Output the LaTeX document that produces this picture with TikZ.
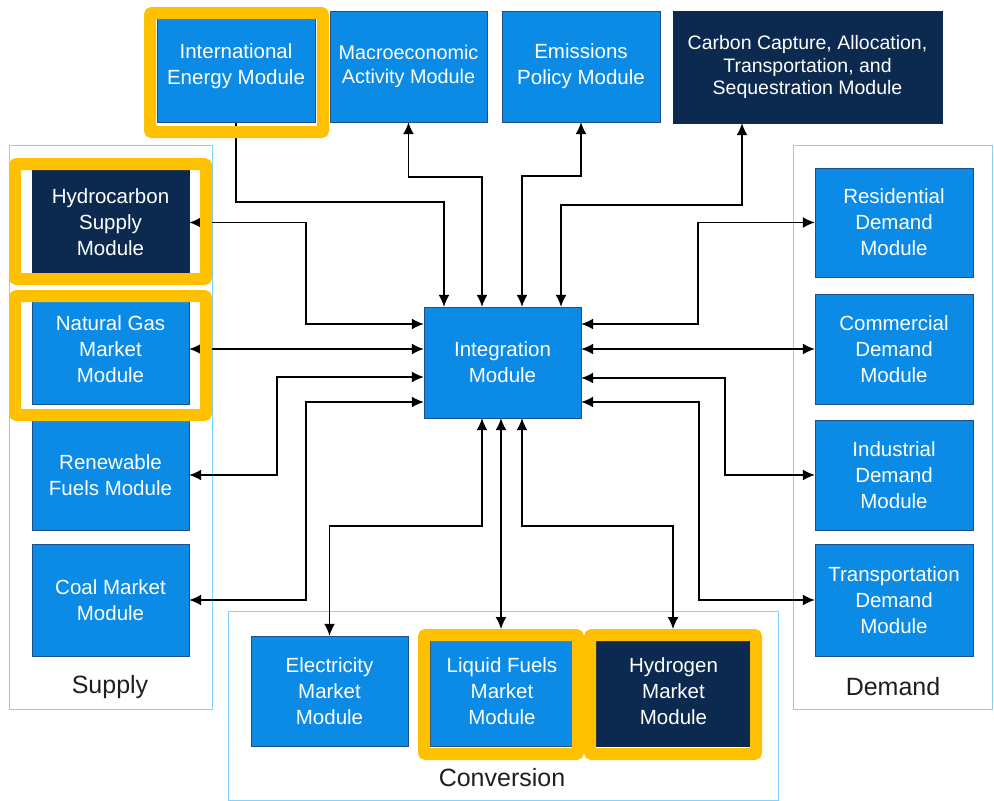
\documentclass[tikz,border=0pt]{standalone}
\usepackage{fontspec}
\setmainfont{Liberation Sans}
\usetikzlibrary{arrows.meta, backgrounds}
\definecolor{modblue}{HTML}{0B8BE5}
\definecolor{modedge}{HTML}{1F4F8A}
\definecolor{modnavy}{HTML}{0C2A50}
\definecolor{hilite}{HTML}{FFC000}
\definecolor{grpline}{HTML}{7FD4FF}

\begin{document}
\begin{tikzpicture}[x=1pt,y=-1pt,
            every node/.style={align=center},
            wh/.style 2 args={minimum width=#1pt,minimum height=#2pt},
            module/.style={draw=modedge, fill=modblue, text=white, inner sep=0pt, font=\fontsize{20.5}{26}\selectfont},
            newmod/.style={module, draw=modnavy, fill=modnavy},
            frame/.style={draw=hilite, line width=12pt, rounded corners=2pt, inner sep=0pt},
            group/.style={draw=grpline, line width=1pt},
            grouplabel/.style={text=black!88, font=\fontsize{25}{30}\selectfont},
            to/.style={-{Latex[length=12pt,width=11pt]}, line width=1.5pt},
            both/.style={{Latex[length=12pt,width=11pt]}-{Latex[length=12pt,width=11pt]}, line width=1.5pt}]
        \useasboundingbox (0,0) rectangle (994,801);

        \node[module, wh={158}{111}] (IE) at (236,66.5) {International\\Energy Module};
        \node[module, wh={157}{111}, font=\fontsize{19.8}{24}\selectfont] (MA) at (408.5,66.5) {Macroeconomic\\Activity Module};
        \node[module, wh={158}{111}] (EP) at (581,66.5) {Emissions\\Policy Module};
        \node[newmod, wh={269}{112}, font=\fontsize{19.5}{22.5}\selectfont] (CC) at (807.5,67) {Carbon Capture, Allocation,\\Transportation, and\\Sequestration Module};

        \node[newmod, wh={157}{109}] (HS) at (110.5,222.5) {Hydrocarbon\\Supply\\Module};
        \node[module, wh={157}{110}] (NG) at (110.5,349) {Natural Gas\\Market\\Module};
        \node[module, wh={157}{110}] (RF) at (110.5,475) {Renewable\\Fuels Module};
        \node[module, wh={157}{112}] (CM) at (110.5,600) {Coal Market\\Module};

        \node[module, wh={157}{111}] (IM) at (502.5,362.5) {Integration\\Module};

        \node[module, wh={158}{109}] (RD) at (894,222.5) {Residential\\Demand\\Module};
        \node[module, wh={158}{110}] (CD) at (894,349) {Commercial\\Demand\\Module};
        \node[module, wh={158}{110}] (ID) at (894,475) {Industrial\\Demand\\Module};
        \node[module, wh={158}{112}] (TD) at (894,600) {Transportation\\Demand\\Module};

        \node[module, wh={157}{110}] (EM) at (329.5,691) {Electricity\\Market\\Module};
        \node[module, wh={144}{110}] (LF) at (502,691) {Liquid Fuels\\Market\\Module};
        \node[newmod, wh={155}{110}] (HM) at (673.5,691) {Hydrogen\\Market\\Module};

        \node[grouplabel] (SUPt) at (110,687) {Supply};
        \node[grouplabel] (DEMt) at (893,687) {Demand};
        \node[grouplabel] (CONt) at (502,778) {Conversion};

        \node[frame, wh={173}{119}] (IEf) at (236.5,72.5) {};
        \node[frame, wh={191}{115}] (HSf) at (110.5,221.5) {};
        \node[frame, wh={191}{119}] (NGf) at (110.5,355.5) {};
        \node[frame, wh={154}{119}] (LFf) at (501,694.5) {};
        \node[frame, wh={166}{119}] (HMf) at (673,694.5) {};

        \begin{scope}[on background layer]
            \draw[group] (9,145) rectangle (212,709);
            \draw[group] (793,145) rectangle (992.5,709);
            \draw[group] (228,611) rectangle (778,800);

            \draw[to] (IE) -- (IE |- 0,202) -| (IM.north -| 444,0);
            \draw[both] (MA) -- (MA |- 0,177) -| (IM.north -| 482,0);
            \draw[both] (EP) -- (EP |- 0,176) -| (IM.north -| 522,0);
            \draw[both] (CC.south -| 742,0) -- (742,205) -| (IM.north -| 561,0);

            \draw[both] (HS.east) -- (HS.east -| 306,0) |- (IM.west |- 0,324);
            \draw[both] (NG.east) -- (IM.west |- NG.east);
            \draw[both] (RF.east) -- (RF.east -| 277,0) |- (IM.west |- 0,377);
            \draw[both] (CM.east) -- (CM.east -| 306,0) |- (IM.west |- 0,402);

            \draw[both] (IM.east |- 0,324) -| (RD.west -| 698,0) -- (RD.west);
            \draw[both] (IM.east |- CD.west) -- (CD.west);
            \draw[both] (IM.east |- 0,378) -| (ID.west -| 725,0) -- (ID.west);
            \draw[both] (IM.east |- 0,402) -| (TD.west -| 699,0) -- (TD.west);

            \draw[both] (IM.south -| 482,0) |- (EM.north |- 0,526) -- (EM.north);
            \draw[both] (IM.south -| LFf.north) -- (LFf.north);
            \draw[both] (IM.south -| 522,0) |- (HMf.north |- 0,526) -- (HMf.north);
        \end{scope}
    \end{tikzpicture}
\end{document}
